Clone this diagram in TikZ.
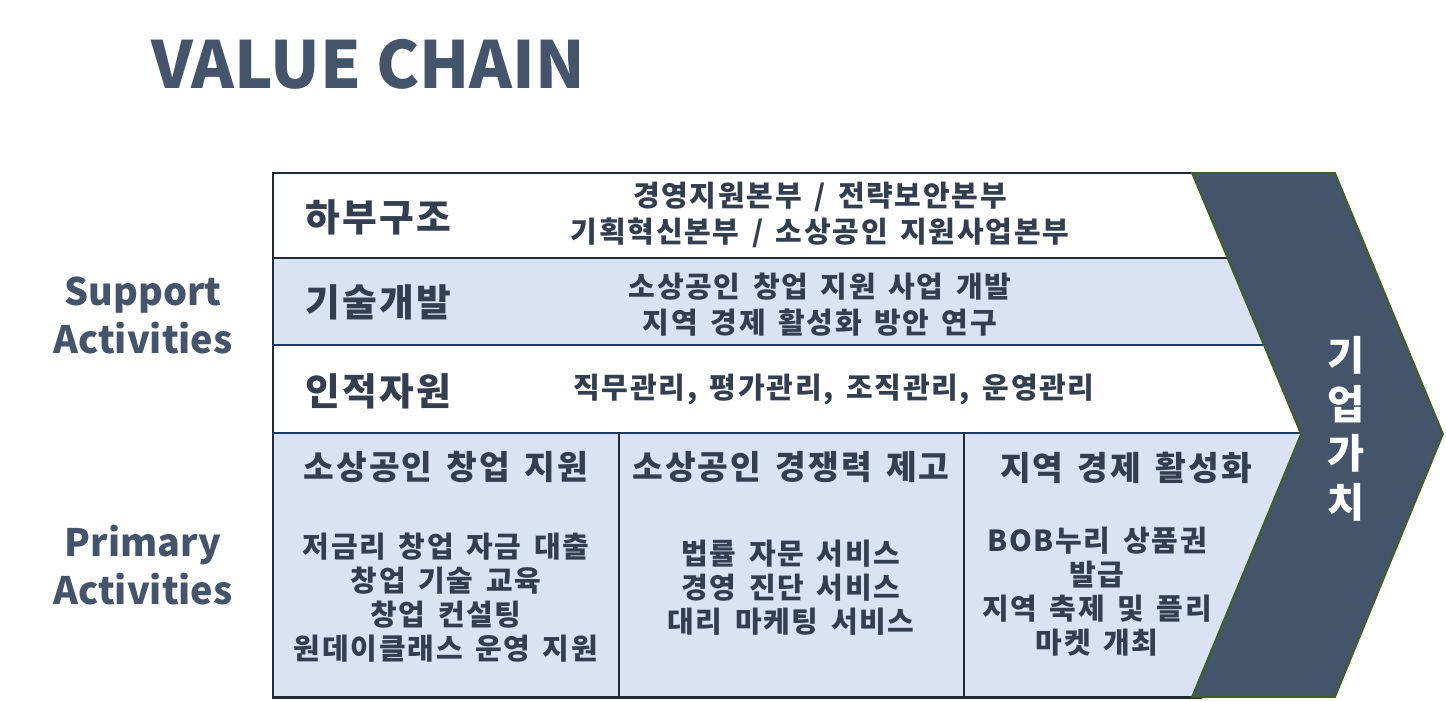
\documentclass[tikz,border=0pt]{standalone}
\usepackage{fontspec}
\setmainfont{Noto Sans CJK KR}
\newfontfamily\krwide{Noto Sans CJK KR}[LetterSpace=6,WordSpace=1.5]
\usepackage{xcolor}
\usepackage{tikz}
\usetikzlibrary{calc,positioning}

\definecolor{slateblue}{HTML}{44546A}
\definecolor{textdark}{HTML}{333F50}
\definecolor{rowblue}{HTML}{DAE3F3}
\definecolor{framedark}{HTML}{222A35}
\definecolor{framenavy}{HTML}{1F3864}
\definecolor{chevgreen}{HTML}{3F6020}

\begin{document}
\begin{tikzpicture}[
  x=0.02cm,y=-0.02cm,
  line cap=rect,
  line join=miter,
  rowline/.style={framedark,line width=1.3pt},
  outerline/.style={framedark,line width=1.7pt},
  rowlabel/.style={font=\krwide\bfseries\fontsize{21.5}{25}\selectfont,text=textdark},
  rowtext/.style={font=\krwide\bfseries\fontsize{16.5}{20.5}\selectfont,text=textdark,align=center},
  colhead/.style={font=\krwide\bfseries\fontsize{19}{23}\selectfont,text=textdark},
  coltext/.style={font=\krwide\bfseries\fontsize{16.5}{19.4}\selectfont,text=textdark,align=center},
  sidelabel/.style={font=\bfseries\fontsize{21.5}{27.3}\selectfont,text=slateblue,align=center}
]
\path[use as bounding box] (0,0) rectangle (1446,700);

\node[anchor=base west,text=slateblue,font=\bfseries\fontsize{37}{40}\selectfont,inner sep=0pt]
  (title) at (151,88) {VALUE CHAIN};

% row backgrounds
\fill[white]   (273,173) rectangle (1300,258);
\fill[rowblue] (273,258) rectangle (1300,345);
\fill[white]   (273,345) rectangle (1300,433);
\fill[rowblue] (273,433) rectangle (1305,697);

\draw[outerline] (1200,173) -- (273,173) -- (273,697) -- (1200,697);
\draw[rowline] (273,258) -- (1290,258);
\draw[rowline,framenavy] (273,345) -- (1290,345);
\draw[rowline,framenavy] (273,433) -- (1300,433);
\draw[rowline] (619,433) -- (619,697);
\draw[rowline] (964,433) -- (964,697);

% chevron
\draw[chevgreen,line width=1pt,fill=slateblue]
  (1192,173) -- (1335,173) -- (1443,434) -- (1335,697)
  -- (1192,697) -- (1301,434) -- cycle;
\node[text=white,font=\bfseries\fontsize{23}{28}\selectfont,align=center]
  (value) at (1346,429) {기\\업\\가\\치};

% support activities
\node[rowlabel] (infra) at (378,217) {하부구조};
\node[rowtext] (infratext) at (820,215)
  {경영지원본부 / 전략보안본부\\기획혁신본부 / 소상공인 지원사업본부};
\node[rowlabel] (tech) at (378,302) {기술개발};
\node[rowtext] (techtext) at (820,305)
  {소상공인 창업 지원 사업 개발\\지역 경제 활성화 방안 연구};
\node[rowlabel] (hr) at (378,391) {인적자원};
\node[rowtext] (hrtext) at (834,390) {직무관리, 평가관리, 조직관리, 운영관리};

% primary activities
\node[colhead] (startup) at (446,467) {소상공인 창업 지원};
\node[coltext] (startuptext) at (446,598)
  {저금리 창업 자금 대출\\창업 기술 교육\\창업 컨설팅\\원데이클래스 운영 지원};
\node[colhead] (compete) at (791,467) {소상공인 경쟁력 제고};
\node[coltext] (competetext) at (791,588)
  {법률 자문 서비스\\경영 진단 서비스\\대리 마케팅 서비스};
\node[colhead] (local) at (1126,468) {지역 경제 활성화};
\node[coltext] (localtext) at (1097,592)
  {BOB누리 상품권\\발급\\지역 축제 및 플리\\마켓 개최};

\node[sidelabel] (support) at (143,315) {Support\\Activities};
\node[sidelabel] (primary) at (143,565) {Primary\\Activities};
\end{tikzpicture}
\end{document}
